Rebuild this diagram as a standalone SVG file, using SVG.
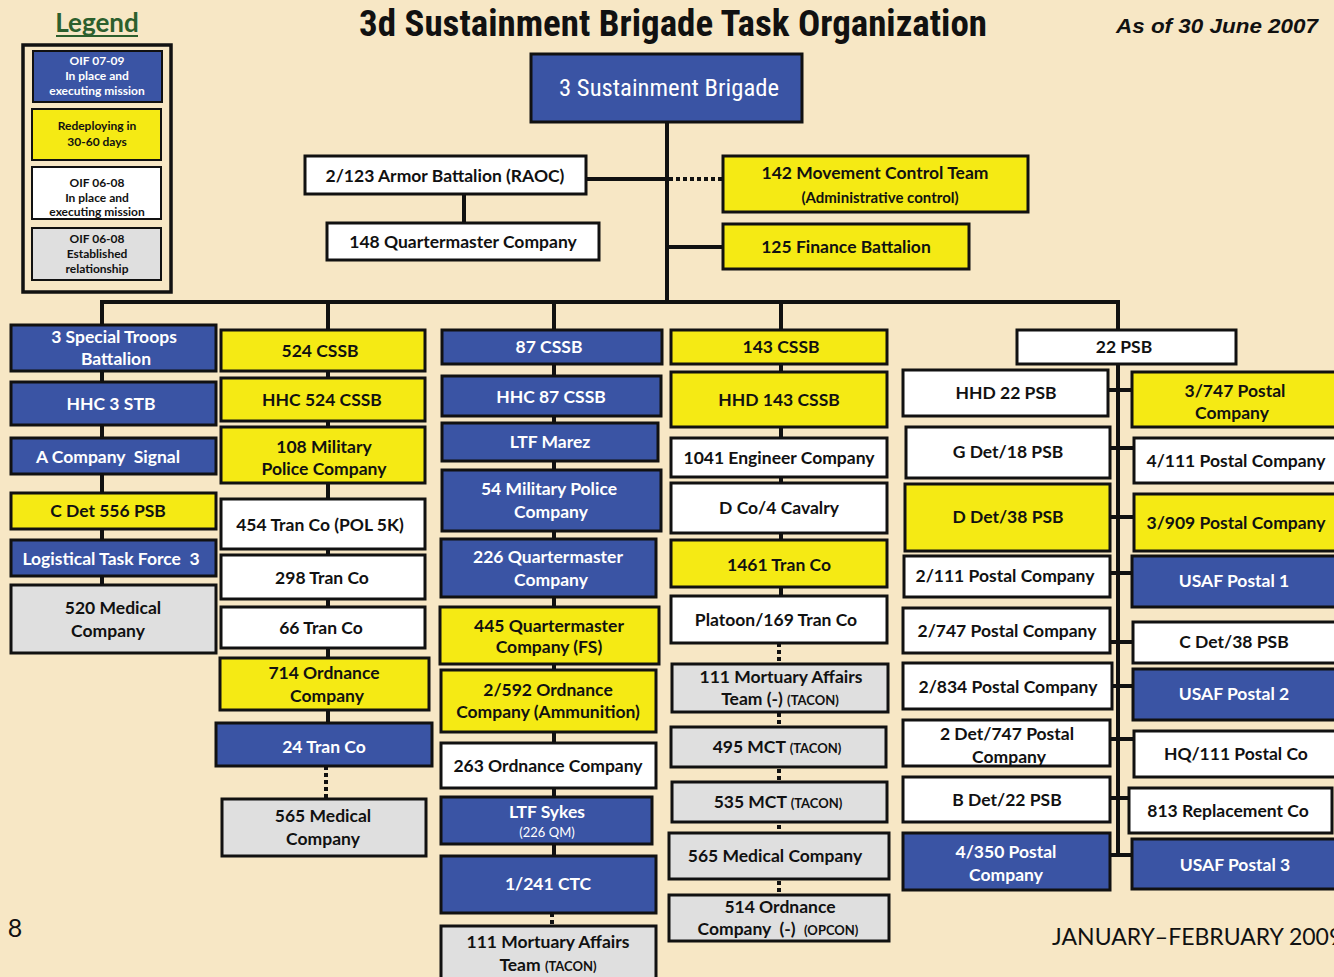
<svg xmlns="http://www.w3.org/2000/svg" width="1334" height="977" viewBox="0 0 1334 977">
<style>
.bg{fill:#F7E7C5}
rect.n{stroke:#111;stroke-width:3}
.b{fill:#3A54A4}
.y{fill:#F5EA14}
.w{fill:#FFFFFF}
.g{fill:#DFDFDF}
text{font-family:Lato,"Liberation Sans",sans-serif;font-weight:bold;font-size:17.5px;text-anchor:middle;fill:#111}
text.tw{fill:#fff}
.sc{font-size:13px}
text.lg{font-size:12px}
.c{stroke:#111;stroke-width:4;fill:none}
.d{stroke:#111;stroke-width:4;stroke-dasharray:4 3;fill:none}
text.cond{font-family:"Liberation Sans Narrow","Roboto Condensed","Liberation Sans",sans-serif}
</style>
<rect class="bg" x="0" y="0" width="1334" height="977"/>

<!-- header -->
<g id="title">
<text class="cond" x="673" y="36" style="font-size:36px;font-weight:bold" textLength="628" lengthAdjust="spacingAndGlyphs">3d Sustainment Brigade Task Organization</text>
</g>
<g id="date">
<text x="1217" y="33" style="font-family:'Liberation Sans',sans-serif;font-style:italic;font-size:21px" textLength="202" lengthAdjust="spacingAndGlyphs">As of 30 June 2007</text>
</g>

<!-- legend -->
<g id="legend">
<text x="97" y="32" style="font-size:26px;fill:#2C5F2D">Legend</text>
<line x1="56" y1="36" x2="138" y2="36" stroke="#2C5F2D" stroke-width="2"/>
<rect x="23" y="45" width="148" height="247" fill="none" stroke="#111" stroke-width="3.5"/>
<rect class="n b" x="33" y="51" width="129" height="51" style="stroke-width:2"/>
<text class="tw lg" x="97" y="65">OIF 07-09</text>
<text class="tw lg" x="97" y="80">In place and</text>
<text class="tw lg" x="97" y="95">executing mission</text>
<rect class="n y" x="32" y="109" width="129" height="51" style="stroke-width:2"/>
<text class="lg" x="97" y="130">Redeploying in</text>
<text class="lg" x="97" y="146">30-60 days</text>
<rect class="n w" x="32" y="167" width="129" height="52" style="stroke-width:2"/>
<text class="lg" x="97" y="187">OIF 06-08</text>
<text class="lg" x="97" y="202">In place and</text>
<text class="lg" x="97" y="216">executing mission</text>
<rect class="n g" x="32" y="228" width="129" height="52" style="stroke-width:2"/>
<text class="lg" x="97" y="243">OIF 06-08</text>
<text class="lg" x="97" y="258">Established</text>
<text class="lg" x="97" y="273">relationship</text>
</g>

<!-- connectors -->
<g id="connectors">
<path class="c" d="M667 122V302"/>
<path class="c" d="M586 179H667"/>
<path class="d" d="M669 179H723"/>
<path class="c" d="M667 247H723"/>
<path class="c" d="M464 194V223"/>
<path class="c" d="M100 302H1120"/>
<path class="c" d="M102 302V585"/>
<path class="c" d="M328 302V723"/>
<path class="d" d="M326 766V799"/>
<path class="c" d="M554 302V856"/>
<path class="d" d="M552 913V926"/>
<path class="c" d="M781 302V596"/>
<path class="d" d="M779 643V895"/>
<path class="c" d="M1118 302V330"/>
<path class="c" d="M1118 364V855"/>
<path class="c" d="M1108 390H1132"/>
<path class="c" d="M1110 448H1134"/>
<path class="c" d="M1110 517H1134"/>
<path class="c" d="M1110 573H1132"/>
<path class="c" d="M1110 642H1133"/>
<path class="c" d="M1111 686H1133"/>
<path class="c" d="M1110 739H1134"/>
<path class="c" d="M1110 798H1129"/>
<path class="c" d="M1110 855H1132"/>
</g>

<!-- top nodes -->
<g id="n-3sb"><rect class="n b" x="531" y="54" width="271" height="68"/>
<text class="tw cond" x="669" y="96" style="font-size:23px;font-weight:normal" textLength="220" lengthAdjust="spacingAndGlyphs">3 Sustainment Brigade</text></g>
<g id="n-2-123"><rect class="n w" x="305" y="156" width="281" height="38"/>
<text x="445" y="182">2/123 Armor Battalion (RAOC)</text></g>
<g id="n-148qm"><rect class="n w" x="327" y="223" width="272" height="37"/>
<text x="463" y="248">148 Quartermaster Company</text></g>
<g id="n-142mct"><rect class="n y" x="723" y="156" width="305" height="56"/>
<text x="875" y="179">142 Movement Control Team</text>
<text x="880" y="203" style="font-size:15px">(Administrative control)</text></g>
<g id="n-125fin"><rect class="n y" x="723" y="224" width="246" height="45"/>
<text x="846" y="253">125 Finance Battalion</text></g>

<!-- column 1 -->
<g id="n-3stb"><rect class="n b" x="11" y="325" width="205" height="46"/>
<text class="tw" x="114" y="343">3 Special Troops</text><text class="tw" x="116" y="365">Battalion</text></g>
<g id="n-hhc3stb"><rect class="n b" x="11" y="382" width="205" height="43"/>
<text class="tw" x="111" y="410">HHC 3 STB</text></g>
<g id="n-acosig"><rect class="n b" x="11" y="438" width="205" height="36"/>
<text class="tw" x="108" y="463" xml:space="preserve">A Company  Signal</text></g>
<g id="n-cdet556"><rect class="n y" x="11" y="493" width="205" height="36"/>
<text x="108" y="517">C Det 556 PSB</text></g>
<g id="n-ltf3"><rect class="n b" x="11" y="540" width="205" height="36"/>
<text class="tw" x="111" y="565" xml:space="preserve">Logistical Task Force  3</text></g>
<g id="n-520med"><rect class="n g" x="11" y="585" width="205" height="68"/>
<text x="113" y="614">520 Medical</text><text x="108" y="637">Company</text></g>

<!-- column 2 -->
<g id="n-524"><rect class="n y" x="221" y="330" width="204" height="41"/>
<text x="320" y="357">524 CSSB</text></g>
<g id="n-hhc524"><rect class="n y" x="221" y="378" width="204" height="43"/>
<text x="322" y="406">HHC 524 CSSB</text></g>
<g id="n-108mp"><rect class="n y" x="221" y="427" width="204" height="56"/>
<text x="324" y="453">108 Military</text><text x="324" y="475">Police Company</text></g>
<g id="n-454"><rect class="n w" x="221" y="499" width="204" height="50"/>
<text x="320" y="531">454 Tran Co (POL 5K)</text></g>
<g id="n-298"><rect class="n w" x="221" y="555" width="204" height="44"/>
<text x="322" y="584">298 Tran Co</text></g>
<g id="n-66"><rect class="n w" x="221" y="607" width="204" height="41"/>
<text x="321" y="634">66 Tran Co</text></g>
<g id="n-714"><rect class="n y" x="220" y="658" width="209" height="52"/>
<text x="324" y="679">714 Ordnance</text><text x="327" y="702">Company</text></g>
<g id="n-24tran"><rect class="n b" x="216" y="723" width="216" height="43"/>
<text class="tw" x="324" y="753">24 Tran Co</text></g>
<g id="n-565med-a"><rect class="n g" x="222" y="799" width="204" height="57"/>
<text x="323" y="822">565 Medical</text><text x="323" y="845">Company</text></g>

<!-- column 3 -->
<g id="n-87"><rect class="n b" x="442" y="330" width="220" height="34"/>
<text class="tw" x="549" y="353">87 CSSB</text></g>
<g id="n-hhc87"><rect class="n b" x="442" y="376" width="219" height="40"/>
<text class="tw" x="551" y="403">HHC 87 CSSB</text></g>
<g id="n-ltfmarez"><rect class="n b" x="442" y="423" width="216" height="38"/>
<text class="tw" x="550" y="448">LTF Marez</text></g>
<g id="n-54mp"><rect class="n b" x="442" y="470" width="219" height="61"/>
<text class="tw" x="549" y="495">54 Military Police</text><text class="tw" x="551" y="518">Company</text></g>
<g id="n-226qm"><rect class="n b" x="441" y="539" width="215" height="58"/>
<text class="tw" x="548" y="563">226 Quartermaster</text><text class="tw" x="551" y="586">Company</text></g>
<g id="n-445qm"><rect class="n y" x="440" y="607" width="219" height="57"/>
<text x="549" y="632">445 Quartermaster</text><text x="549" y="653">Company (FS)</text></g>
<g id="n-2-592"><rect class="n y" x="441" y="670" width="215" height="62"/>
<text x="548" y="696">2/592 Ordnance</text><text x="548" y="718">Company (Ammunition)</text></g>
<g id="n-263"><rect class="n w" x="441" y="743" width="215" height="45"/>
<text x="548" y="772">263 Ordnance Company</text></g>
<g id="n-ltfsykes"><rect class="n b" x="441" y="797" width="211" height="47"/>
<text class="tw" x="547" y="818">LTF Sykes</text>
<text class="tw" x="547" y="837" style="font-weight:normal;font-size:13px">(226 QM)</text></g>
<g id="n-1-241"><rect class="n b" x="441" y="856" width="215" height="57"/>
<text class="tw" x="548" y="890">1/241 CTC</text></g>
<g id="n-111ma-a"><rect class="n g" x="441" y="926" width="215" height="60"/>
<text x="548" y="948">111 Mortuary Affairs</text><text x="548" y="971">Team <tspan class="sc">(TACON)</tspan></text></g>

<!-- column 4 -->
<g id="n-143"><rect class="n y" x="671" y="330" width="216" height="34"/>
<text x="781" y="353">143 CSSB</text></g>
<g id="n-hhd143"><rect class="n y" x="671" y="372" width="216" height="55"/>
<text x="779" y="406">HHD 143 CSSB</text></g>
<g id="n-1041"><rect class="n w" x="671" y="438" width="216" height="39"/>
<text x="779" y="464">1041 Engineer Company</text></g>
<g id="n-dco4"><rect class="n w" x="671" y="483" width="216" height="50"/>
<text x="779" y="514">D Co/4 Cavalry</text></g>
<g id="n-1461"><rect class="n y" x="671" y="540" width="216" height="47"/>
<text x="779" y="571">1461 Tran Co</text></g>
<g id="n-plt169"><rect class="n w" x="671" y="596" width="216" height="47"/>
<text x="776" y="626">Platoon/169 Tran Co</text></g>
<g id="n-111ma-b"><rect class="n g" x="672" y="664" width="216" height="48"/>
<text x="781" y="683">111 Mortuary Affairs</text><text x="780" y="705">Team (-) <tspan class="sc">(TACON)</tspan></text></g>
<g id="n-495"><rect class="n g" x="671" y="727" width="215" height="40"/>
<text x="777" y="753">495 MCT <tspan class="sc">(TACON)</tspan></text></g>
<g id="n-535"><rect class="n g" x="672" y="782" width="215" height="40"/>
<text x="778" y="808">535 MCT <tspan class="sc">(TACON)</tspan></text></g>
<g id="n-565med-b"><rect class="n g" x="669" y="833" width="220" height="46"/>
<text x="775" y="862">565 Medical Company</text></g>
<g id="n-514"><rect class="n g" x="669" y="895" width="220" height="46"/>
<text x="780" y="913">514 Ordnance</text><text x="778" y="935" xml:space="preserve">Company  (-)  <tspan class="sc">(OPCON)</tspan></text></g>

<!-- column 5 -->
<g id="n-22psb"><rect class="n w" x="1017" y="330" width="219" height="34"/>
<text x="1124" y="353">22 PSB</text></g>
<g id="n-hhd22"><rect class="n w" x="903" y="370" width="205" height="46"/>
<text x="1006" y="399">HHD 22 PSB</text></g>
<g id="n-gdet18"><rect class="n w" x="906" y="427" width="204" height="51"/>
<text x="1008" y="458">G Det/18 PSB</text></g>
<g id="n-ddet38"><rect class="n y" x="905" y="484" width="205" height="67"/>
<text x="1008" y="523">D Det/38 PSB</text></g>
<g id="n-2-111"><rect class="n w" x="904" y="556" width="206" height="41"/>
<text x="1005" y="582">2/111 Postal Company</text></g>
<g id="n-2-747"><rect class="n w" x="903" y="608" width="207" height="45"/>
<text x="1007" y="637">2/747 Postal Company</text></g>
<g id="n-2-834"><rect class="n w" x="903" y="663" width="209" height="46"/>
<text x="1008" y="693">2/834 Postal Company</text></g>
<g id="n-2det747"><rect class="n w" x="903" y="720" width="207" height="46"/>
<text x="1007" y="740">2 Det/747 Postal</text><text x="1009" y="763">Company</text></g>
<g id="n-bdet22"><rect class="n w" x="903" y="777" width="207" height="45"/>
<text x="1007" y="806">B Det/22 PSB</text></g>
<g id="n-4-350"><rect class="n b" x="903" y="833" width="207" height="57"/>
<text class="tw" x="1006" y="858">4/350 Postal</text><text class="tw" x="1006" y="881">Company</text></g>

<g id="n-3-747"><rect class="n y" x="1132" y="372" width="214" height="55"/>
<text x="1235" y="397">3/747 Postal</text><text x="1232" y="419">Company</text></g>
<g id="n-4-111"><rect class="n w" x="1134" y="438" width="212" height="45"/>
<text x="1236" y="467">4/111 Postal Company</text></g>
<g id="n-3-909"><rect class="n y" x="1134" y="494" width="212" height="57"/>
<text x="1236" y="529">3/909 Postal Company</text></g>
<g id="n-usaf1"><rect class="n b" x="1132" y="556" width="214" height="51"/>
<text class="tw" x="1234" y="587">USAF Postal 1</text></g>
<g id="n-cdet38"><rect class="n w" x="1133" y="622" width="213" height="41"/>
<text x="1234" y="648">C Det/38 PSB</text></g>
<g id="n-usaf2"><rect class="n b" x="1133" y="669" width="213" height="51"/>
<text class="tw" x="1234" y="700">USAF Postal 2</text></g>
<g id="n-hq111"><rect class="n w" x="1134" y="731" width="212" height="46"/>
<text x="1236" y="760">HQ/111 Postal Co</text></g>
<g id="n-813"><rect class="n w" x="1129" y="788" width="203" height="45"/>
<text x="1228" y="817">813 Replacement Co</text></g>
<g id="n-usaf3"><rect class="n b" x="1132" y="839" width="214" height="50"/>
<text class="tw" x="1235" y="871">USAF Postal 3</text></g>

<!-- footer -->
<g id="footer">
<text x="15" y="937" style="font-weight:normal;font-size:25px">8</text>
<text x="1052" y="945" style="font-weight:normal;font-size:23px;text-anchor:start">JANUARY–FEBRUARY 2009</text>
</g>
</svg>
